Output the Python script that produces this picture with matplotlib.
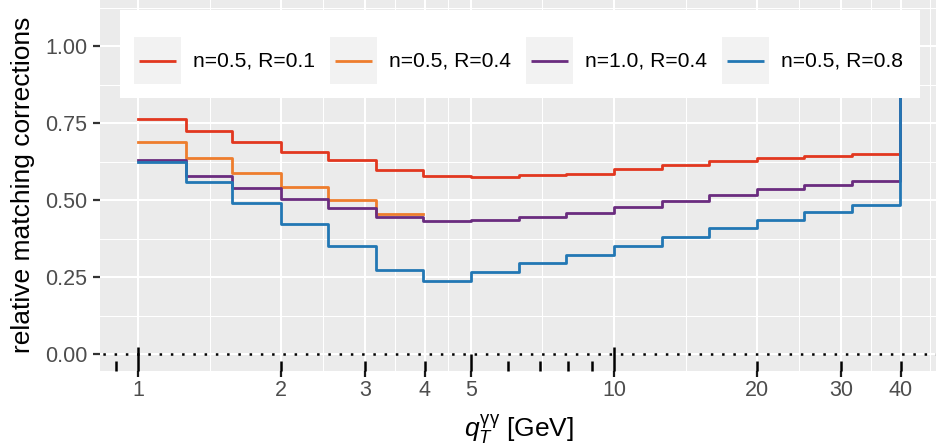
import numpy as np
import matplotlib
matplotlib.use('Agg')
import matplotlib.pyplot as plt
from matplotlib.legend_handler import HandlerBase
from matplotlib.patches import Rectangle
from matplotlib.lines import Line2D
from matplotlib.ticker import FixedLocator, NullFormatter

plt.rcParams['font.family'] = ['Liberation Sans', 'DejaVu Sans']
plt.rcParams['mathtext.fontset'] = 'custom'
plt.rcParams['mathtext.rm'] = 'Liberation Sans'
plt.rcParams['mathtext.it'] = 'Liberation Sans:italic'
plt.rcParams['mathtext.bf'] = 'Liberation Sans:bold'

# ---------------- data ----------------
qT_edges = [1.0, 1.26, 1.58, 2.0, 2.51, 3.16, 3.98, 5.01, 6.31, 7.94,
            10.0, 12.6, 15.8, 20.0, 25.1, 31.6, 39.8]

corr_n05_R01 = [0.763, 0.725, 0.688, 0.658, 0.630, 0.598, 0.579, 0.576,
                0.581, 0.586, 0.600, 0.613, 0.628, 0.638, 0.645, 0.650]
corr_n05_R04 = [0.688, 0.638, 0.589, 0.542, 0.500, 0.455]
corr_n10_R04 = [0.629, 0.580, 0.538, 0.503, 0.475, 0.446, 0.432, 0.435,
                0.445, 0.460, 0.477, 0.497, 0.517, 0.535, 0.549, 0.561]
corr_n05_R08 = [0.624, 0.558, 0.491, 0.423, 0.353, 0.272, 0.239, 0.266,
                0.295, 0.322, 0.351, 0.381, 0.410, 0.437, 0.461, 0.484]
end_value = 1.0

series_labels = ['n=0.5, R=0.1', 'n=0.5, R=0.4', 'n=1.0, R=0.4', 'n=0.5, R=0.8']
series_values = [corr_n05_R01, corr_n05_R04, corr_n10_R04, corr_n05_R08]
series_end = [end_value, None, end_value, end_value]
series_colors = ['#E2371F', '#EE7D2D', '#6A2C7F', '#2277B4']

x_breaks = [1, 2, 3, 4, 5, 10, 20, 30, 40]
x_labels = ['1', '2', '3', '4', '5', '10', '20', '30', '40']
y_breaks = [0.0, 0.25, 0.50, 0.75, 1.00]
y_labels = ['0.00', '0.25', '0.50', '0.75', '1.00']

logtick_short = [0.9, 2, 3, 4, 6, 7, 8, 9, 20, 30, 40]
logtick_mid = [5]
logtick_long = [1, 10]

# ---------------- figure ----------------
W, H = 936, 446
fig = plt.figure(figsize=(W / 100, H / 100), dpi=100)
px_left, px_width = 99.9, 838.8
px_top, px_bottom = -1.7, 371.3
ax = fig.add_axes([px_left / W, (H - px_bottom) / H, px_width / W, (px_bottom - px_top) / H])
ax.set_facecolor('#EBEBEB')
for s in ax.spines.values():
    s.set_visible(False)

ax.set_xscale('log')
ax.set_xlim(0.832, 48.1)
ax.set_ylim(-0.055, 1.155)

# grid
ext = list(x_breaks) + [x_breaks[-1] ** 2 / x_breaks[-2]]
x_minor = [np.sqrt(a * b) for a, b in zip(ext[:-1], ext[1:])]
y_ext = list(y_breaks) + [y_breaks[-1] + 0.25]
y_minor = [(a + b) / 2 for a, b in zip(y_ext[:-1], y_ext[1:])]

ax.set_xticks(x_breaks)
ax.set_xticklabels(x_labels)
ax.xaxis.set_minor_locator(FixedLocator(x_minor))
ax.xaxis.set_minor_formatter(NullFormatter())
ax.set_yticks(y_breaks)
ax.set_yticklabels(y_labels)
ax.yaxis.set_minor_locator(FixedLocator(y_minor))
ax.set_axisbelow(True)
ax.grid(which='major', color='white', linewidth=1.5)
ax.grid(which='minor', color='white', linewidth=0.75)

ax.tick_params(axis='both', which='minor', length=0)
ax.tick_params(axis='y', which='major', length=4.8, width=1.6, color='#333333',
               labelsize=15.5, labelcolor='#4D4D4D', pad=4.3)
ax.tick_params(axis='x', which='major', length=4.3, width=1.6, color='#1A1A1A',
               labelsize=15.5, labelcolor='#4D4D4D', pad=2.2)

# dotted zero line
ax.axhline(0, color='black', linewidth=1.8, linestyle=(3.36, (1, 3.5)),
           dash_capstyle='butt', zorder=1.5)

# log ticks at the bottom of the panel
panel_h = px_bottom - px_top
xt = ax.get_xaxis_transform()
ax.vlines(logtick_short, 0, 10 / panel_h, transform=xt, colors='black', linewidth=1.8, clip_on=False, zorder=3)
ax.vlines(logtick_mid, 0, 17 / panel_h, transform=xt, colors='black', linewidth=1.8, clip_on=False, zorder=3)
ax.vlines(logtick_long, 0, 24 / panel_h, transform=xt, colors='black', linewidth=1.8, clip_on=False, zorder=3)

# step lines
handles = []
for vals, endv, col, lab in zip(series_values, series_end, series_colors, series_labels):
    xs = qT_edges[:len(vals) + 1]
    ys = list(vals) + [endv if endv is not None else vals[-1]]
    ln, = ax.step(xs, ys, where='post', color=col, linewidth=2.0, label=lab, zorder=2)
    handles.append(ln)

# legend
class KeyHandler(HandlerBase):
    def create_artists(self, legend, orig_handle, xdescent, ydescent, width, height, fontsize, trans):
        bg = Rectangle((-xdescent, -ydescent), width, height, facecolor='#F2F2F2',
                       edgecolor='none', transform=trans)
        inset = 0.11 * width
        y = -ydescent + height / 2
        ln = Line2D([-xdescent + inset, -xdescent + width - inset], [y, y],
                    color=orig_handle.get_color(), linewidth=orig_handle.get_linewidth(),
                    solid_capstyle='butt', transform=trans)
        return [bg, ln]

def ax_x(px):
    return (px - px_left) / px_width

def ax_y(py):
    return (px_bottom - py) / panel_h

ax.add_patch(Rectangle((ax_x(120), ax_y(98)), ax_x(920) - ax_x(120), ax_y(10) - ax_y(98),
                       transform=ax.transAxes, facecolor='white', edgecolor='none', zorder=4))

leg_fs = 15.2
fs_px = leg_fs * 100 / 72
hl = 47 / fs_px
hh = (47 / fs_px - 0.245) / 0.65
leg = ax.legend(handles=handles, labels=series_labels, ncol=4, loc='upper left',
                bbox_to_anchor=(ax_x(134), ax_y(37)), bbox_transform=ax.transAxes,
                frameon=False, borderpad=0, borderaxespad=0, fontsize=leg_fs,
                handlelength=hl, handleheight=hh, handletextpad=12 / fs_px,
                columnspacing=15 / fs_px,
                handler_map={Line2D: KeyHandler()})
leg.set_zorder(5)

# axis titles
fig.text(22.8 / W, 1 - 184.8 / H, 'relative matching corrections', rotation=90,
         ha='center', va='center', fontsize=19, color='black')
fig.text((px_left + px_width / 2) / W, (H - 436.5) / H,
         r'$q_T^{\mathrm{\gamma\gamma}}$ [GeV]',
         ha='center', va='baseline', fontsize=19, color='black')

fig.savefig('out.png', dpi=100)
